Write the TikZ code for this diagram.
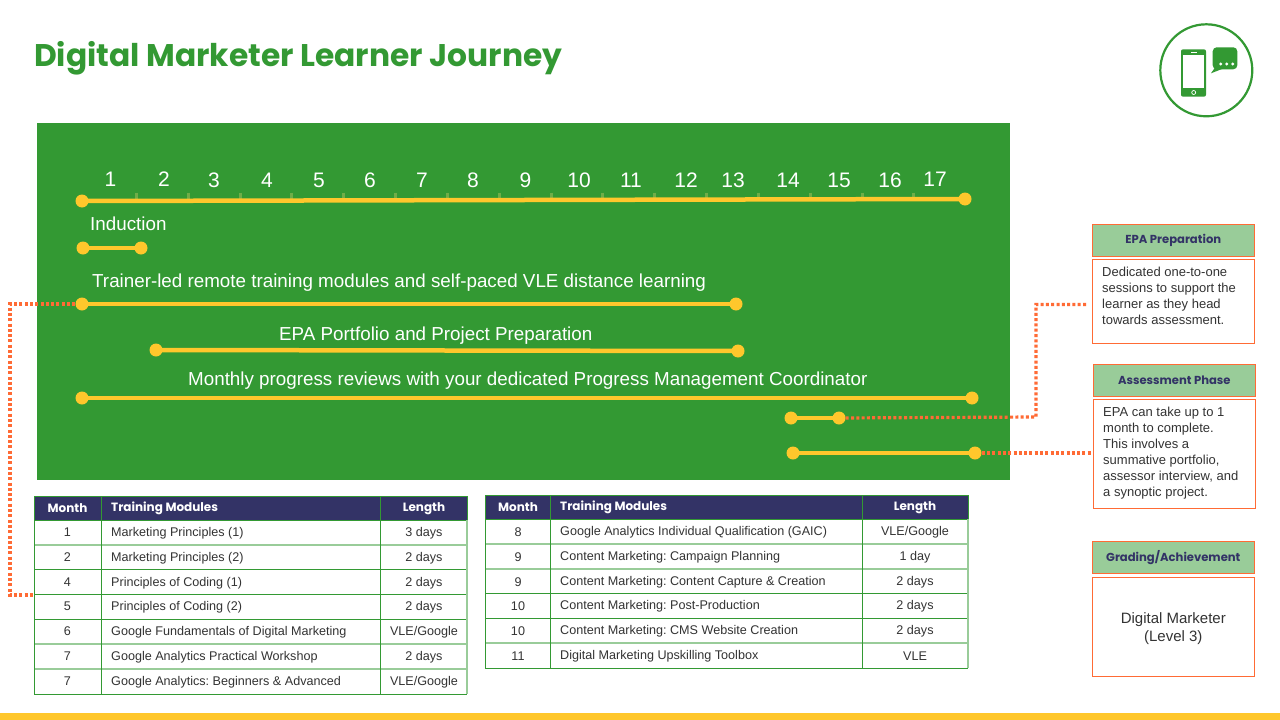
\documentclass[tikz,border=0pt]{standalone}
\usepackage{fontspec}
\setmainfont{Liberation Sans}
\newfontfamily\headfont{Poppins}
\frenchspacing
\definecolor{grn}{HTML}{339933}
\definecolor{ylw}{HTML}{FFC72C}
\definecolor{navy}{HTML}{333366}
\definecolor{org}{HTML}{FF6B35}
\definecolor{lgrn}{HTML}{99CC99}
\definecolor{txt}{HTML}{333333}
\definecolor{tick}{HTML}{70AD47}
\newcommand\lowr[1]{\raisebox{-1pt}{#1}}
\tikzset{
 bar/.style={draw=ylw,line width=4.5pt},
 dot/.style={circle,fill=ylw,minimum size=13pt,inner sep=0pt},
 link/.style={draw=org,line width=3.2pt,dash pattern=on 3pt off 2.3pt},
 wlab/.style={text=white,font=\fontsize{18.8}{22}\selectfont,inner sep=0pt,anchor=west},
 num/.style={text=white,font=\fontsize{21}{24}\selectfont,inner sep=0pt},
 cell/.style={font=\fontsize{12.6}{15}\selectfont,text=txt,inner sep=0pt},
 hcell/.style={font=\headfont\bfseries\fontsize{12}{15}\selectfont,text=white,inner sep=0pt},
 hbox/.style={draw=org,fill=lgrn,line width=1pt,font=\headfont\bfseries\fontsize{11.6}{14}\selectfont,text=navy,inner sep=0pt,minimum width=162pt,minimum height=32.3pt},
 bbox/.style={draw=org,fill=white,line width=1pt,minimum width=162pt},
 para/.style={font=\fontsize{13}{16}\selectfont,text=txt,inner sep=0pt,anchor=north west,align=left},
 rowline/.style={draw=grn,line width=1pt},
 rowlight/.style={draw=lgrn,line width=1.4pt},
}
\begin{document}
\begin{tikzpicture}[x=1pt,y=-1pt]
\useasboundingbox (0,0) rectangle (1280,720);
\fill[white] (0,0) rectangle (1280,720);
\fill[ylw] (0,713) rectangle (1280,720);
\node[anchor=west,inner sep=0pt,text=grn,font=\headfont\bfseries\fontsize{31.3}{36}\selectfont] (title) at (34,58) {Digital Marketer Learner Journey};
% icon
\draw[grn,line width=2.2pt] (1206.3,70.3) circle (46);
\fill[grn,rounded corners=2pt] (1181,49.3) rectangle (1206,96.7);
\fill[white] (1183.3,55) rectangle (1204,88.3);
\draw[white,line width=.7pt] (1191,52.2) -- (1197,52.2);
\draw[white,line width=.7pt] (1193.7,92.5) circle (2);
\fill[grn,rounded corners=4pt] (1212.7,47.3) rectangle (1237.3,69.3);
\fill[grn] (1216,66) -- (1211,73.3) -- (1222,69) -- cycle;
\foreach \x in {1220.7,1226.7,1232.7} \fill[white] (\x,64) circle (1.7);
% panel
\fill[grn] (37,123) rectangle (1010,480);
% ticks
\foreach \x in {136,188,240,291,343,395,447,499.5,551.5,602,654,706,758,810,862,913}
  \draw[tick,line width=3pt] (\x,192.5) -- (\x,199);
% month numbers
\foreach \x/\y/\t in {110.5/179/1,164/179/2,214/180/3,267/180/4,319/180/5,370/180/6,422/180/7,473/180/8,525.5/180/9,579/180/10,631/180/11,686/180/12,733/180/13,788/180/14,839/180/15,890/180/16,935/179/17}
  \node[num] (m\t) at (\x,\y) {\t};
% timeline bars
\foreach \n/\xa/\ya/\xb/\yb in {a/82/201/965/199,b/83/248/141/248,c/82/304/736/304,d/156/350/738/351,e/82/398/972/398,f/791/418/839/418,g/793/453/975/453}{
  \node[dot] (\n1) at (\xa,\ya) {};
  \node[dot] (\n2) at (\xb,\yb) {};
  \draw[bar] (\n1.center) -- (\n2.center);
}
\node[wlab] (l1) at (90,224) {Induction};
\node[wlab] (l2) at (92,283) {Trainer-led remote training modules and self-paced VLE distance learning};
\node[wlab] (l3) at (279,336) {EPA Portfolio and Project Preparation};
\node[wlab] (l4) at (188,381) {Monthly progress reviews with your dedicated Progress Management Coordinator};
% side boxes
\node[hbox] (h1) at (1173.3,240.2) {\lowr{EPA Preparation}};
\node[bbox,minimum height=84pt] (b1) at (1173.3,301.3) {};
\node[para] (p1) at (1102,266.5) {Dedicated one-to-one\\sessions to support the\\learner as they head\\towards assessment.};
\node[hbox] (h2) at (1174.3,380.3) {\lowr{Assessment Phase}};
\node[bbox,minimum height=109pt] (b2) at (1174.3,453.8) {};
\node[para] (p2) at (1103,406.5) {EPA can take up to 1\\month to complete.\\This involves a\\summative portfolio,\\assessor interview, and\\a synoptic project.};
\node[hbox] (h3) at (1173.3,557.3) {\lowr{Grading/Achievement}};
\node[bbox,minimum height=98.7pt] (b3) at (1173.3,626.7) {};
\node[inner sep=0pt,align=center,text=txt,font=\fontsize{15}{18}\selectfont] (b3t) at (1173.3,628.5) {Digital Marketer\\(Level 3)};
% left table
\fill[navy] (34,496) rectangle (467,520);
\foreach \y in {545,644,669} \draw[rowlight] (34,\y) -- (467,\y);
\foreach \y in {496,520,569.5,594.5,619,694} \draw[rowline] (34,\y) -- (467,\y);
\draw[rowlight] (467,520) -- (467,694);
\foreach \x in {34,101.5,380.5} \draw[rowline] (\x,496) -- (\x,694);
\draw[rowline] (467,496) -- (467,520);
\node[hcell] (lh1) at (67.5,508.5) {Month};
\node[hcell,anchor=west] (lh2) at (111,508.5) {Training Modules};
\node[hcell] (lh3) at (424,508.5) {Length};
\foreach \i/\y/\m/\t/\l in {1/533/1/Marketing Principles (1)/3 days,2/558/2/Marketing Principles (2)/2 days,3/583/4/Principles of Coding (1)/2 days,4/607/5/Principles of Coding (2)/2 days,5/632/6/Google Fundamentals of Digital Marketing/VLE\slash Google,6/657/7/Google Analytics Practical Workshop/2 days,7/682/7/Google Analytics: Beginners \& Advanced/VLE\slash Google}{
  \node[cell] (lm\i) at (67.5,\y-1) {\m};
  \node[cell,anchor=west] (lt\i) at (111,\y) {\t};
  \node[cell] (ll\i) at (424,\y) {\l};
}
% right table
\fill[navy] (485,495) rectangle (968,519);
\foreach \y in {544,569,643} \draw[rowlight] (485,\y) -- (968,\y);
\foreach \y in {495,519,593,618,668} \draw[rowline] (485,\y) -- (968,\y);
\draw[rowlight] (968,519) -- (968,668);
\foreach \x in {485,550.5,862.5} \draw[rowline] (\x,495) -- (\x,668);
\draw[rowline] (968,495) -- (968,519);
\node[hcell] (rh1) at (518,507.5) {Month};
\node[hcell,anchor=west] (rh2) at (560,507.5) {Training Modules};
\node[hcell] (rh3) at (915,507.5) {Length};
\foreach \i/\y/\m/\t/\l in {1/532/8/Google Analytics Individual Qualification (GAIC)/VLE\slash Google,2/557/9/Content Marketing: Campaign Planning/1 day,3/582/9/Content Marketing: Content Capture \& Creation/2 days,4/606/10/Content Marketing: Post-Production/2 days,5/631/10/Content Marketing: CMS Website Creation/2 days,6/656/11/Digital Marketing Upskilling Toolbox/VLE}{
  \node[cell] (rm\i) at (518,\y) {\m};
  \node[cell,anchor=west] (rt\i) at (560,\y) {\t};
  \node[cell] (rl\i) at (915,\y) {\l};
}
% links
\coordinate (j1) at (10,304);
\coordinate (j2) at (10,595);
\coordinate (j3) at (1036,417);
\coordinate (j4) at (1036,304.5);
\coordinate (e1) at (34,595);
\coordinate (e2) at (1088,304.5);
\coordinate (e3) at (1092,453);
\path[link] (c1) -- (j1) -- (j2) -- (e1);
\path[link] (f2) -- (j3) -- (j4) -- (e2);
\path[link] (g2) -- (e3);
\end{tikzpicture}
\end{document}
